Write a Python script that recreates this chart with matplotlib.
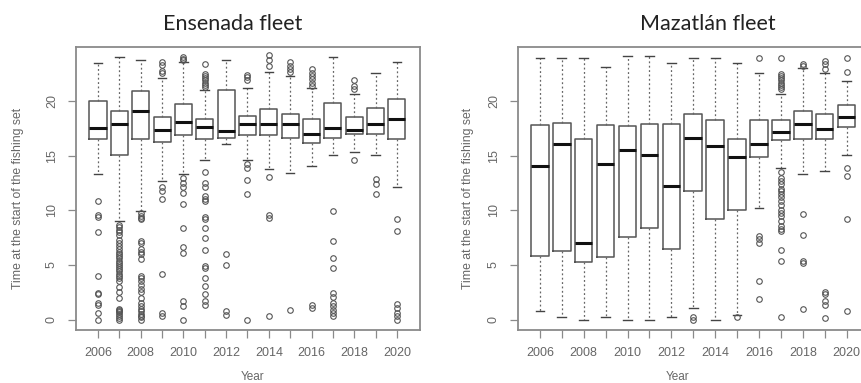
import matplotlib
matplotlib.use("Agg")
import matplotlib.pyplot as plt

years = list(range(2006, 2021))
year_labels = ["2006", "", "2008", "", "2010", "", "2012", "", "2014", "", "2016", "", "2018", "", "2020"]

# Ensenada fleet: whisker low, Q1, median, Q3, whisker high
ens_whislo = [13.3, 9.0, 9.9, 12.7, 13.3, 14.6, 16.05, 14.6, 13.75, 13.45, 14.05, 15.05, 15.3, 15.05, 12.1]
ens_q1 = [16.5, 15.05, 16.5, 16.3, 16.9, 16.5, 16.6, 16.9, 16.9, 16.65, 16.15, 16.6, 16.95, 16.95, 16.5]
ens_med = [17.5, 17.9, 19.1, 17.4, 18.1, 17.6, 17.3, 17.95, 17.95, 17.95, 17.0, 17.5, 17.4, 17.95, 18.35]
ens_q3 = [20.0, 19.1, 20.95, 18.55, 19.7, 18.35, 21.0, 18.65, 19.25, 18.85, 18.35, 19.8, 18.55, 19.4, 20.2]
ens_whishi = [23.45, 24.0, 23.75, 22.1, 23.6, 21.0, 23.75, 21.2, 22.7, 22.3, 21.2, 24.0, 20.65, 22.6, 23.6]
ens_fliers = [
    [10.85, 9.6, 9.4, 8.0, 4.0, 2.45, 2.3, 1.5, 1.3, 0.6, 0.0],
    [8.7, 8.5, 8.2, 8.0, 7.7, 7.3, 7.0, 6.7, 6.5, 6.2, 6.0, 5.8, 5.6, 5.4, 5.2, 5.0, 4.8,
     4.6, 4.4, 4.2, 4.0, 3.8, 3.5, 3.0, 2.5, 2.0, 1.0, 0.9, 0.8, 0.7, 0.5, 0.3, 0.1, 0.0],
    [9.8, 9.5, 9.3, 9.2, 7.2, 7.0, 6.5, 6.2, 6.0, 5.5, 4.0, 3.8, 3.5, 3.2, 2.8, 2.5, 2.0,
     1.5, 1.2, 1.0, 0.8, 0.5, 0.3, 0.2, 0.0],
    [23.6, 23.3, 22.8, 22.6, 12.1, 11.8, 11.0, 4.2, 0.6, 0.3],
    [24.0, 23.9, 23.8, 13.0, 12.5, 12.1, 11.6, 10.55, 8.4, 6.6, 6.1, 1.7, 1.2, 0.0],
    [23.4, 22.5, 22.3, 22.1, 21.9, 21.7, 21.5, 21.3, 13.5, 12.5, 12.1, 11.3, 11.0, 10.85,
     9.4, 9.2, 8.4, 7.5, 6.4, 4.9, 4.7, 3.8, 3.1, 2.3, 1.7, 1.3],
    [6.0, 5.0, 0.75, 0.45],
    [22.4, 22.2, 21.9, 14.2, 13.9, 12.75, 11.5, 0.0],
    [24.2, 23.75, 23.2, 13.05, 9.6, 9.3, 0.3],
    [23.55, 23.2, 22.9, 22.7, 0.9],
    [22.9, 22.6, 22.3, 22.0, 21.7, 21.4, 1.3, 1.05],
    [9.9, 7.2, 5.65, 4.75, 2.45, 2.1, 1.5, 1.2, 0.9, 0.6, 0.3],
    [21.9, 21.4, 21.1, 14.6],
    [12.85, 12.4, 11.5],
    [9.2, 8.1, 1.4, 1.1, 0.6, 0.3, 0.0],
]

# Mazatlan fleet
maz_whislo = [0.75, 0.2, 0.0, 0.2, 0.0, 0.0, 0.2, 1.1, 0.0, 0.45, 10.2, 13.9, 13.3, 13.6, 15.1]
maz_q1 = [5.8, 6.3, 5.3, 5.75, 7.6, 8.4, 6.5, 11.8, 9.2, 10.05, 14.85, 16.4, 16.5, 16.5, 17.65]
maz_med = [14.1, 16.05, 7.0, 14.2, 15.55, 15.1, 12.2, 16.6, 15.85, 14.9, 16.1, 17.2, 17.9, 17.45, 18.55]
maz_q3 = [17.85, 18.0, 16.5, 17.85, 17.75, 17.9, 17.9, 18.85, 18.3, 16.5, 18.3, 18.25, 19.1, 18.85, 19.65]
maz_whishi = [23.95, 23.95, 23.95, 23.1, 24.1, 24.1, 23.45, 23.95, 23.95, 23.45, 22.6, 20.7, 23.0, 22.55, 21.85]
maz_fliers = [
    [], [], [], [], [], [], [],
    [0.2, 0.0],
    [],
    [0.2],
    [23.95, 7.65, 7.4, 7.0, 3.5, 1.85],
    [23.95, 22.5, 22.3, 22.1, 21.9, 21.7, 21.5, 21.3, 21.1, 13.5, 13.0, 12.7, 12.4, 12.0,
     11.8, 11.5, 11.2, 10.9, 10.5, 10.0, 9.8, 9.5, 9.0, 8.6, 8.3, 8.1, 6.4, 5.35, 0.2],
    [23.4, 23.2, 9.7, 7.7, 5.35, 5.2, 1.0],
    [23.7, 23.4, 22.9, 2.55, 2.3, 1.7, 1.3, 0.15],
    [23.95, 22.7, 13.9, 13.15, 9.25, 0.75],
]

W, H = 862, 383
fig = plt.figure(figsize=(W / 100, H / 100), dpi=100)

frame_col = "#8a8a8a"
text_col = "#666666"


def make_stats(lo, q1, med, q3, hi, fl):
    stats = []
    for i in range(len(lo)):
        stats.append(dict(whislo=lo[i], q1=q1[i], med=med[i], q3=q3[i],
                          whishi=hi[i], fliers=fl[i], label=str(years[i])))
    return stats


def draw(ax, stats, xlim):
    ax.bxp(stats, positions=range(1, 16), widths=0.8, showfliers=True,
           boxprops=dict(color="#555555", linewidth=1.1),
           medianprops=dict(color="#111111", linewidth=2.2, solid_capstyle="butt"),
           whiskerprops=dict(color="#666666", linewidth=0.9, linestyle=(0, (1.5, 2))),
           capprops=dict(color="#444444", linewidth=1.0),
           capwidths=0.4,
           flierprops=dict(marker="o", markerfacecolor="none", markeredgecolor="#555555",
                           markersize=4, markeredgewidth=0.8))
    ax.set_xlim(*xlim)
    ax.set_ylim(-0.96, 24.96)
    ax.set_xticks(range(1, 16))
    ax.set_xticklabels(year_labels)
    ax.set_yticks([0, 5, 10, 15, 20])
    ax.set_yticklabels(["0", "5", "10", "15", "20"], rotation=90, va="center")
    for s in ax.spines.values():
        s.set_color(frame_col)
        s.set_linewidth(1.3)
    ax.tick_params(direction="out", length=6, width=0.9, color=frame_col,
                   labelcolor=text_col, labelsize=9)
    ax.tick_params(axis="x", pad=6)
    ax.tick_params(axis="y", pad=7)
    for lab in ax.get_xticklabels() + ax.get_yticklabels():
        lab.set_family("Liberation Sans")


ax1 = fig.add_axes([76 / W, 53 / H, 344 / W, 283 / H])
draw(ax1, make_stats(ens_whislo, ens_q1, ens_med, ens_q3, ens_whishi, ens_fliers), (-0.03, 16.08))

ax2 = fig.add_axes([518 / W, 53 / H, 352 / W, 283 / H])
draw(ax2, make_stats(maz_whislo, maz_q1, maz_med, maz_q3, maz_whishi, maz_fliers), (0.0, 16.07))

fig.text(233 / W, 1 - 24 / H, "Ensenada fleet", ha="center", va="center",
         family="Lato", fontsize=15.5, color="#222222")
fig.text(708 / W, 1 - 24 / H, "Mazatlán fleet", ha="center", va="center",
         family="Lato", fontsize=15.5, color="#222222")

for x in (18, 468):
    fig.text(x / W, 1 - 198 / H, "Time at the start of the fishing set", rotation=90,
             ha="center", va="center", family="Liberation Sans", fontsize=8.8, color=text_col)
for x in (253, 678):
    fig.text(x / W, 1 - 377 / H, "Year", ha="center", va="center",
             family="Liberation Sans", fontsize=8.5, color=text_col)

fig.savefig("out.png", dpi=100, facecolor="white")
